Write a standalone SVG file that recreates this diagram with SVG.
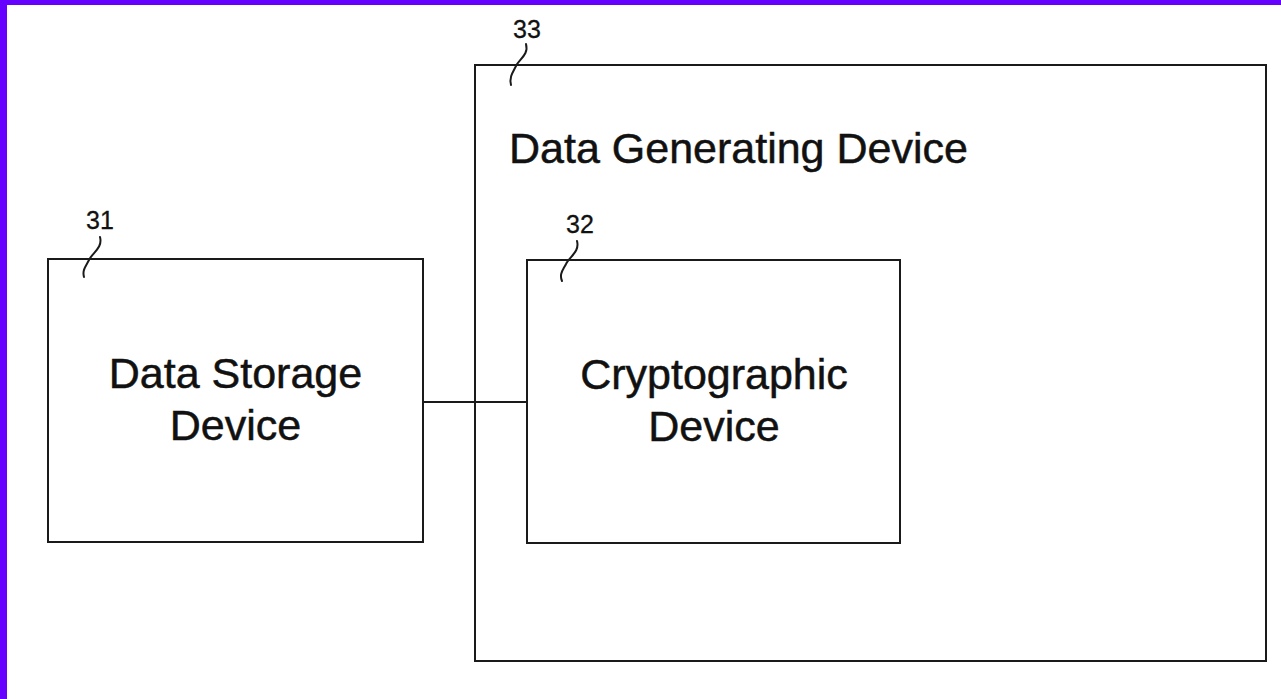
<svg xmlns="http://www.w3.org/2000/svg" width="1281" height="699" viewBox="0 0 1281 699">
<style>
.box{fill:none;stroke:#1a1a1a;stroke-width:2}
.lead{fill:none;stroke:#1a1a1a;stroke-width:2;stroke-linecap:round}
.lbl{font-family:"Liberation Sans",Arial,sans-serif;font-size:43px;fill:#111;stroke:#111;stroke-width:0.5}
.num{font-family:"Liberation Sans",Arial,sans-serif;font-size:25px;fill:#111;text-anchor:middle;stroke:#111;stroke-width:0.3}
</style>
<rect x="0" y="0" width="1281" height="699" fill="#ffffff"/>
<rect x="0" y="0" width="1281" height="5" fill="#6600ff"/>
<rect x="0" y="0" width="7" height="699" fill="#6600ff"/>
<g id="node33">
<rect class="box" x="475" y="65" width="791" height="596"/>
<text class="num" x="527" y="38">33</text>
<path class="lead" d="M526,44 C529,55 519,59 516,66 C513,72 509,77 511,85"/>
<text class="lbl" x="509" y="163" font-size="42">Data Generating Device</text>
</g>
<g id="node31">
<rect class="box" x="48" y="259" width="375" height="283"/>
<text class="num" x="100" y="229">31</text>
<path class="lead" d="M100,237 C103,248 92,253 89,260 C86,266 82,270 84,277"/>
<text class="lbl" x="235.5" y="388" text-anchor="middle">Data Storage</text>
<text class="lbl" x="235.5" y="440" text-anchor="middle">Device</text>
</g>
<g id="node32">
<rect class="box" x="527" y="260" width="373" height="283"/>
<text class="num" x="580" y="233">32</text>
<path class="lead" d="M577,241 C580,252 569,257 566,264 C563,270 559,274 562,281"/>
<text class="lbl" x="714" y="389" text-anchor="middle">Cryptographic</text>
<text class="lbl" x="714" y="441" text-anchor="middle">Device</text>
</g>
<g id="connectors">
<line class="box" x1="423" y1="402" x2="527" y2="402"/>
</g>
</svg>
